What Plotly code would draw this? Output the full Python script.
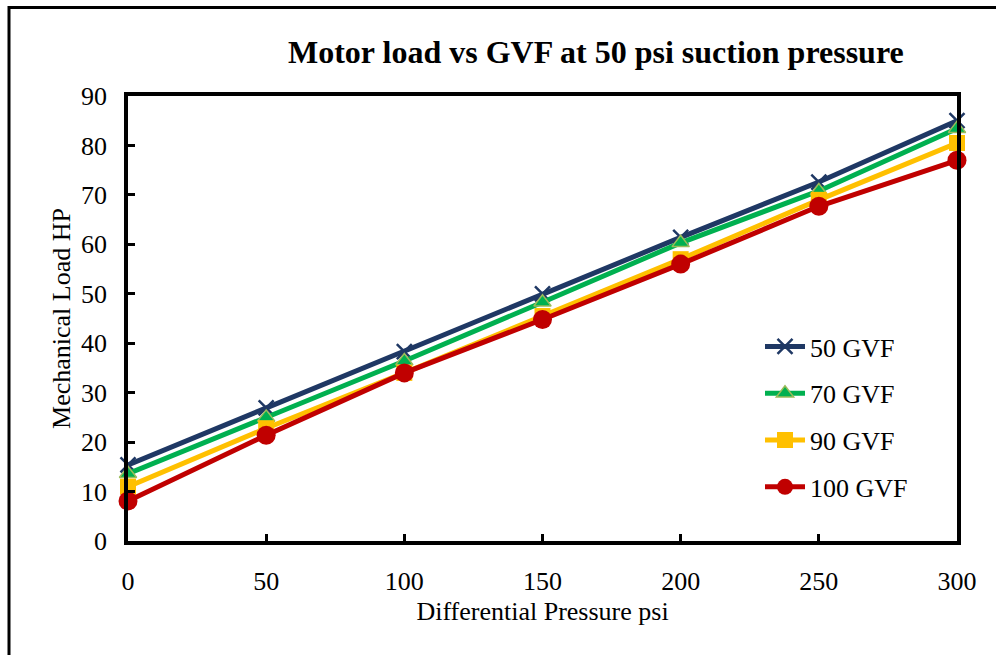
import plotly.graph_objects as go

x_vals = [0, 50, 100, 150, 200, 250, 300]
gvf50 = [15.4, 26.9, 38.3, 50.0, 61.4, 72.6, 85.0]
gvf70 = [13.6, 25.0, 36.4, 48.3, 60.3, 70.8, 83.4]
gvf90 = [11.0, 22.8, 34.0, 45.5, 57.0, 69.0, 80.5]
gvf100 = [8.1, 21.4, 34.0, 44.8, 56.0, 67.7, 77.0]
series_names = ["50 GVF", "70 GVF", "90 GVF", "100 GVF"]

FONT = "Liberation Serif, Times New Roman, serif"

fig = go.Figure()
fig.add_trace(go.Scatter(x=x_vals, y=gvf50, name=series_names[0], mode="lines+markers",
                         legendgroup="a",
                         line=dict(color="#1F3864", width=5),
                         marker=dict(symbol="x-thin", size=15, line=dict(color="#1F3864", width=2.5)),
                         cliponaxis=False))
fig.add_trace(go.Scatter(x=x_vals, y=gvf70, name=series_names[1], mode="lines+markers",
                         legendgroup="b",
                         line=dict(color="#00B050", width=5),
                         marker=dict(symbol="triangle-up", size=15, color="#00B050",
                                     line=dict(color="#9BBB59", width=1.5)),
                         cliponaxis=False))
fig.add_trace(go.Scatter(x=x_vals, y=gvf90, name=series_names[2], mode="lines+markers",
                         legendgroup="c",
                         line=dict(color="#FFC000", width=5),
                         marker=dict(symbol="square", size=16, color="#FFC000"),
                         cliponaxis=False))
fig.add_trace(go.Scatter(x=x_vals, y=gvf100, name=series_names[3], mode="lines+markers",
                         legendgroup="d",
                         line=dict(color="#C00000", width=5),
                         marker=dict(symbol="circle", size=19, color="#C00000"),
                         cliponaxis=False))

fig.update_layout(
    width=996, height=655,
    margin=dict(l=128, r=39, t=96, b=114),
    paper_bgcolor="white", plot_bgcolor="white",
    font=dict(family=FONT, size=26, color="black"),
    showlegend=True,
    legend=dict(x=(760 - 128) / 829, y=(541 - 323) / 445, xanchor="left", yanchor="top",
                font=dict(family=FONT, size=26, color="black"),
                bgcolor="rgba(0,0,0,0)", tracegroupgap=10, itemwidth=40),
    annotations=[dict(text="<b>Motor load vs GVF at 50 psi suction pressure</b>",
                      xref="paper", yref="paper", x=(596 - 128) / 829, y=(541 - 52) / 445,
                      xanchor="center", yanchor="middle", showarrow=False,
                      font=dict(family=FONT, size=32, color="black"))],
    shapes=[dict(type="rect", xref="paper", yref="paper",
                 x0=(9 - 128) / 829, x1=1.2, y0=-0.5, y1=(541 - 7.5) / 445,
                 line=dict(color="black", width=3))],
)

fig.update_xaxes(range=[0, 300], tickvals=x_vals, ticks="inside", ticklen=7, tickwidth=3,
                 tickcolor="black", showline=True, linecolor="black", linewidth=3.5,
                 mirror=True, showgrid=False, zeroline=False, ticklabelstandoff=14,
                 tickfont=dict(family=FONT, size=26),
                 title=dict(text="Differential Pressure psi", font=dict(family=FONT, size=26), standoff=8))
fig.update_yaxes(range=[0, 90], dtick=10, ticks="inside", ticklen=7, tickwidth=3,
                 tickcolor="black", showline=True, linecolor="black", linewidth=3.5,
                 mirror=True, showgrid=False, zeroline=False, ticklabelstandoff=12,
                 tickfont=dict(family=FONT, size=26),
                 title=dict(text="Mechanical Load HP", font=dict(family=FONT, size=26), standoff=4))

fig.write_html("out.html")
